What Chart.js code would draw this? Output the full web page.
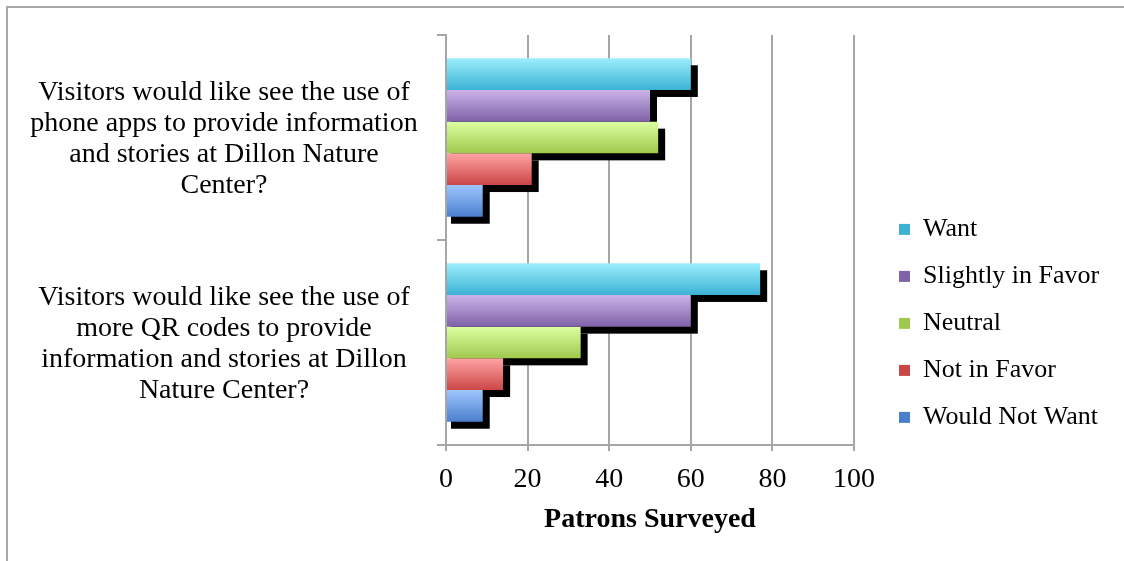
<!DOCTYPE html>
<html>
<head>
<meta charset="utf-8">
<script src="https://cdn.jsdelivr.net/npm/chart.js@4"></script>
<style>
  html, body { margin: 0; padding: 0; background: #ffffff; overflow: hidden; }
  #frame { position: absolute; left: 6px; top: 6px; width: 1400px; height: 800px;
           border-left: 2px solid #a9a9a9; border-top: 2px solid #a9a9a9; }
  #c { position: absolute; left: 0; top: 0; }
</style>
</head>
<body>
<div id="frame"></div>
<canvas id="c" width="1124" height="561"></canvas>
<script>
// ---- data ----
const categories = [
  ["Visitors would like see the use of", "phone apps to provide information", "and stories at Dillon Nature", "Center?"],
  ["Visitors would like see the use of", "more QR codes to provide", "information and stories at Dillon", "Nature Center?"]
];
const seriesNames = ["Want", "Slightly in Favor", "Neutral", "Not in Favor", "Would Not Want"];
const want = [60, 77];
const slightlyInFavor = [50, 60];
const neutral = [52, 33];
const notInFavor = [21, 14];
const wouldNotWant = [9, 9];
const xTicks = [0, 20, 40, 60, 80, 100];
const xTitle = "Patrons Surveyed";

// ---- styles ----
const palette = [
  { top: "#9beefc", mid: "#5ccbe6", bottom: "#3cb2d5" },
  { top: "#cbb3e8", mid: "#a48acb", bottom: "#7f62a8" },
  { top: "#dcffa0", mid: "#c0e678", bottom: "#a0c84e" },
  { top: "#ffa4a4", mid: "#ee7676", bottom: "#cc4646" },
  { top: "#9ec6ff", mid: "#74a5ea", bottom: "#4a7fcd" }
];
const FONT = "'Liberation Serif', 'Times New Roman', serif";
const GRID = "#a6a6a6";
const LABEL_SIZE = 28;

function barFill(ctx) {
  const pal = palette[ctx.datasetIndex];
  if (ctx.type !== 'data') return pal.mid;
  const meta = ctx.chart.getDatasetMeta(ctx.datasetIndex);
  const el = meta && meta.data[ctx.dataIndex];
  if (!el || !isFinite(el.y) || !isFinite(el.height)) return pal.mid;
  const top = el.y - el.height / 2, bot = el.y + el.height / 2;
  const g = ctx.chart.ctx.createLinearGradient(0, top, 0, bot);
  g.addColorStop(0, pal.top);
  g.addColorStop(1, pal.bottom);
  return g;
}

const values = [want, slightlyInFavor, neutral, notInFavor, wouldNotWant];
const datasets = seriesNames.map((name, i) => ({
  label: name,
  data: values[i],
  backgroundColor: barFill,
  borderWidth: 0,
  barPercentage: 1.0,
  categoryPercentage: 0.773
}));

// measure widest label line to center label block
const mctx = document.createElement('canvas').getContext('2d');
mctx.font = LABEL_SIZE + "px " + FONT;
let widest = 0;
categories.forEach(lines => lines.forEach(l => { widest = Math.max(widest, mctx.measureText(l).width); }));
const labelCenter = 224;
const yTickLen = 9;
const yPad = Math.max(0, 446 - yTickLen - labelCenter - widest / 2);

const shadowPlugin = {
  id: 'barShadow',
  beforeDatasetsDraw(chart) {
    const c = chart.ctx;
    c.save();
    c.fillStyle = '#000000';
    chart.data.datasets.forEach((ds, i) => {
      const meta = chart.getDatasetMeta(i);
      meta.data.forEach(el => {
        const p = el.getProps(['x', 'y', 'base', 'height'], true);
        const top = p.y - p.height / 2;
        c.fillRect(p.base + 4, top + 7, p.x - p.base + 3, p.height);
      });
    });
    c.restore();
  }
};

const legendWidthPlugin = {
  id: 'legendWidth',
  beforeInit(chart) {
    const lg = chart.legend;
    if (lg && !lg._patched) {
      const orig = lg.fit;
      lg.fit = function () { orig.call(this); this.width = 246; };
      lg._patched = true;
    }
  }
};

const chart = new Chart(document.getElementById('c'), {
  type: 'bar',
  data: { labels: categories, datasets },
  plugins: [legendWidthPlugin, shadowPlugin],
  options: {
    indexAxis: 'y',
    responsive: false,
    animation: false,
    devicePixelRatio: 1,
    layout: { padding: { top: 35, left: 0, right: 0, bottom: 0 } },
    plugins: {
      tooltip: { enabled: false },
      legend: {
        position: 'right',
        align: 'start',
        title: { display: true, text: '', font: { size: 12 }, padding: { top: 146, bottom: 0 } },
        labels: {
          boxWidth: 11,
          boxHeight: 11,
          padding: 21,
          color: '#000000',
          font: { family: FONT, size: 26 }
        }
      }
    },
    scales: {
      x: {
        type: 'linear',
        position: 'bottom',
        min: 0,
        max: 100,
        afterBuildTicks(scale) { scale.ticks = xTicks.map(v => ({ value: v })); },
        afterFit(scale) { scale.height = 116; },
        grid: { color: GRID, lineWidth: 2, tickLength: 6, drawTicks: true },
        border: { color: GRID, width: 2 },
        ticks: { color: '#000000', padding: 12, font: { family: FONT, size: 28 } },
        title: {
          display: true,
          text: xTitle,
          color: '#000000',
          font: { family: FONT, size: 28, weight: 'bold' },
          padding: { top: 0, bottom: 24 }
        }
      },
      y: {
        type: 'category',
        position: 'left',
        afterFit(scale) { scale.width = 446; scale.paddingTop = 0; scale.paddingBottom = 0; },
        grid: { display: true, drawOnChartArea: false, drawTicks: true, tickLength: yTickLen, color: GRID, lineWidth: 2, offset: true },
        border: { color: GRID, width: 2 },
        ticks: {
          color: '#000000',
          crossAlign: 'center',
          padding: yPad,
          labelOffset: 2,
          autoSkip: false,
          font: { family: FONT, size: LABEL_SIZE, lineHeight: '31px' }
        }
      },
      y2: {
        type: 'linear',
        position: 'right',
        display: true,
        afterFit(scale) { scale.width = 24; scale.paddingTop = 0; scale.paddingBottom = 0; },
        grid: { display: false, drawTicks: false },
        border: { display: false },
        ticks: { display: false }
      }
    }
  }
});
chart.update('none');
</script>
</body>
</html>
